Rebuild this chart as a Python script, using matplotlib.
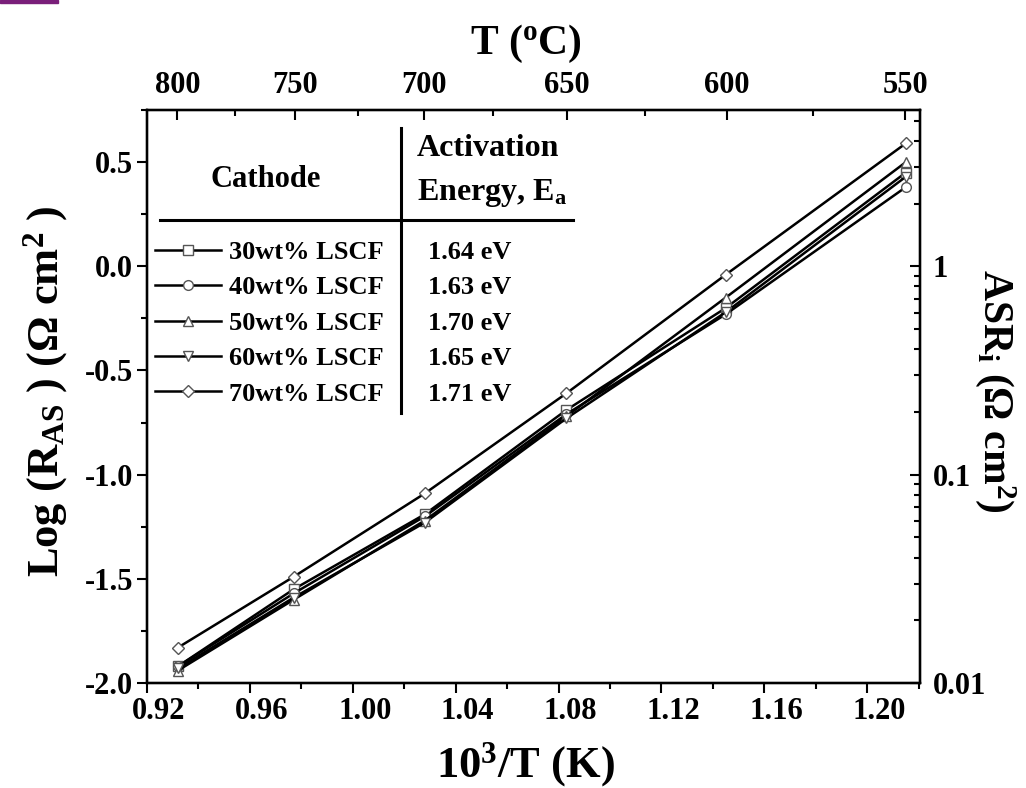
import matplotlib
matplotlib.use("Agg")
import matplotlib.pyplot as plt
from matplotlib.lines import Line2D
from matplotlib.patches import Rectangle
from matplotlib.transforms import ScaledTranslation
from matplotlib.ticker import (MultipleLocator, FixedLocator, FixedFormatter,
                               FormatStrFormatter, LogLocator, NullFormatter)

plt.rcParams["font.family"] = ["Liberation Serif", "DejaVu Serif"]
plt.rcParams["font.weight"] = "bold"
plt.rcParams["axes.labelweight"] = "bold"
plt.rcParams["axes.unicode_minus"] = False
plt.rcParams["mathtext.fontset"] = "custom"
plt.rcParams["mathtext.rm"] = "Liberation Serif:bold"
plt.rcParams["mathtext.it"] = "Liberation Serif:italic:bold"
plt.rcParams["mathtext.bf"] = "Liberation Serif:bold"

# data
inv_T = [0.932, 0.977, 1.028, 1.083, 1.145, 1.215]          # 10^3/T (1/K)
cathodes = ["30wt% LSCF", "40wt% LSCF", "50wt% LSCF", "60wt% LSCF", "70wt% LSCF"]
act_energy = ["1.64 eV", "1.63 eV", "1.70 eV", "1.65 eV", "1.71 eV"]
log_ras_30 = [-1.92, -1.55, -1.19, -0.69, -0.20, 0.45]
log_ras_40 = [-1.92, -1.57, -1.20, -0.71, -0.23, 0.38]
log_ras_50 = [-1.94, -1.60, -1.22, -0.72, -0.15, 0.50]
log_ras_60 = [-1.93, -1.59, -1.23, -0.73, -0.22, 0.43]
log_ras_70 = [-1.83, -1.49, -1.09, -0.61, -0.04, 0.59]
top_temps = [800, 750, 700, 650, 600, 550]                  # deg C
top_minor_temps = [775, 725, 675, 625, 575]
asr_ticks = [0.01, 0.1, 1]
asr_labels = ["0.01", "0.1", "1"]

series = [log_ras_30, log_ras_40, log_ras_50, log_ras_60, log_ras_70]
markers = ["s", "o", "^", "v", "D"]

XMIN, XMAX = 0.92, 1.2205
YMIN, YMAX = -2.0, 0.75
TICK_FS = 22
LABEL_FS = 30


def c_to_inv(t):
    return 1000.0 / (t + 273.15)


fig = plt.figure(figsize=(10.26, 7.88), dpi=100)
ax = fig.add_axes([0.1433, 0.1332, 0.7534, 0.7272])

for vals, m, name in zip(series, markers, cathodes):
    ax.plot(inv_T, vals, color="black", lw=1.8, marker=m,
            ms=7 if m != "D" else 6, mfc="white", mec="#555555",
            mew=1.0, label=name, zorder=3)

ax.set_xlim(XMIN, XMAX)
ax.set_ylim(YMIN, YMAX)
ax.xaxis.set_major_locator(MultipleLocator(0.04))
ax.xaxis.set_minor_locator(MultipleLocator(0.02))
ax.xaxis.set_major_formatter(FormatStrFormatter("%.2f"))
ax.yaxis.set_major_locator(MultipleLocator(0.5))
ax.yaxis.set_minor_locator(MultipleLocator(0.25))
ax.yaxis.set_major_formatter(FormatStrFormatter("%.1f"))
ax.tick_params(which="both", direction="out", width=1.5, labelsize=TICK_FS,
               top=False, right=False)
ax.tick_params(which="major", length=7)
ax.tick_params(which="minor", length=4)
ax.tick_params(axis="x", pad=3)
ax.tick_params(axis="y", pad=3)
for sp in ax.spines.values():
    sp.set_linewidth(1.6)

# bottom tick labels sit a little right of their ticks in the source
shift = ScaledTranslation(12 / 100, 0, fig.dpi_scale_trans)
for lab in ax.get_xticklabels():
    lab.set_transform(lab.get_transform() + shift)

ax.set_xlabel("10$^{\\mathrm{3}}$/T (K)", fontsize=32)
ax.set_ylabel("Log (R$_{\\mathrm{AS}}$ ) (\u03a9 cm$^{\\mathrm{2}}$ )",
              fontsize=32)
ax.xaxis.set_label_coords(0.49, -0.100)
ax.yaxis.set_label_coords(-0.100, 0.51)

# right axis: ASR on log scale
axr = ax.twinx()
axr.set_yscale("log")
axr.set_ylim(10 ** YMIN, 10 ** YMAX)
axr.yaxis.set_major_locator(FixedLocator(asr_ticks))
axr.yaxis.set_major_formatter(FixedFormatter(asr_labels))
axr.yaxis.set_minor_locator(LogLocator(base=10, subs=range(2, 10)))
axr.yaxis.set_minor_formatter(NullFormatter())
axr.tick_params(which="both", direction="in", width=1.5, labelsize=TICK_FS,
                pad=9)
axr.tick_params(which="major", length=7)
axr.tick_params(which="minor", length=4)
axr.set_ylabel("ASR$_{\\mathrm{i}}$ (\u03a9 cm$^{\\mathrm{2}}$)", fontsize=LABEL_FS,
               rotation=270, va="bottom")
axr.yaxis.set_label_coords(1.068, 0.51)

# top axis: temperature in deg C
axt = ax.twiny()
axt.set_xlim(XMIN, XMAX)
axt.xaxis.set_major_locator(FixedLocator([c_to_inv(t) for t in top_temps]))
axt.xaxis.set_major_formatter(FixedFormatter([str(t) for t in top_temps]))
axt.xaxis.set_minor_locator(FixedLocator([c_to_inv(t) for t in top_minor_temps]))
axt.tick_params(which="both", direction="in", width=1.5, labelsize=TICK_FS,
                pad=7)
axt.tick_params(which="major", length=7)
axt.tick_params(which="minor", length=4)
axt.set_xlabel("T ($^{\\mathrm{o}}$C)", fontsize=LABEL_FS)
axt.xaxis.set_label_coords(0.49, 1.098)
for a in (axr, axt):
    for sp in a.spines.values():
        sp.set_linewidth(1.6)

# legend / table
leg = ax.legend(loc="upper left", bbox_to_anchor=(0.0103, 0.772),
                frameon=False, handlelength=2.5, handletextpad=0.3,
                labelspacing=0.45, borderaxespad=0, borderpad=0,
                numpoints=1, prop={"size": 19, "weight": "bold"})

line_kw = dict(transform=ax.transAxes, color="black", lw=2.2, clip_on=False)
ax.add_line(Line2D([0.3286, 0.3286], [0.471, 0.9686], **line_kw))
ax.add_line(Line2D([0.0168, 0.551], [0.808, 0.808], **line_kw))

ax.text(0.154, 0.878, "Cathode", transform=ax.transAxes, fontsize=22,
        ha="center", va="center")
ax.text(0.349, 0.933, "Activation", transform=ax.transAxes, fontsize=23,
        ha="left", va="center")
ax.text(0.349, 0.855, "Energy, E$_{\\mathrm{a}}$", transform=ax.transAxes,
        fontsize=23, ha="left", va="center")

fig.canvas.draw()
inv = ax.transAxes.inverted()
for txt, ea in zip(leg.get_texts(), act_energy):
    bb = txt.get_window_extent()
    yc = inv.transform((0, (bb.y0 + bb.y1) / 2))[1]
    ax.text(0.3635, yc, ea, transform=ax.transAxes, fontsize=19,
            ha="left", va="center")

# purple strip in the top left corner of the source image
fig.patches.append(Rectangle((0, 1 - 3 / 788), 58 / 1026, 3 / 788,
                             transform=fig.transFigure, color="#7a1f7a"))

fig.savefig("out.png", dpi=100)
